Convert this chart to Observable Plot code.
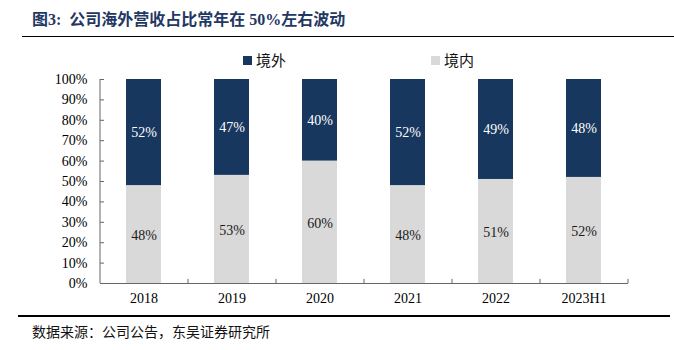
<!DOCTYPE html>
<html><head><meta charset="utf-8">
<script src="https://cdn.jsdelivr.net/npm/d3@7"></script>
<script src="https://cdn.jsdelivr.net/npm/@observablehq/plot@0.6"></script>
<style>
body{margin:0;background:#fff;}
#wrap{position:relative;width:674px;height:350px;overflow:hidden;}
#title{position:absolute;left:32px;top:6px;font-size:16px;font-weight:bold;color:#1f3864;font-family:"Liberation Serif","Noto Sans CJK SC",serif;white-space:nowrap;}
#tline{position:absolute;left:22px;right:0;top:36px;border-top:1.5px solid #000;}
.leg{position:absolute;top:50px;font-size:15px;font-family:"Noto Sans CJK SC",sans-serif;display:flex;align-items:center;line-height:20px;color:#111;}
.sw{width:9px;height:9px;margin-right:4px;}
#chart{position:absolute;left:0;top:65px;}
#cline{position:absolute;left:18px;width:652px;top:315px;border-top:2px solid #000;}
#caption{position:absolute;left:32px;top:321px;font-size:14px;font-family:"Noto Sans CJK SC",sans-serif;color:#111;white-space:nowrap;}
</style>
</head><body>
<div id="wrap">
  <div id="title">图3:&nbsp; 公司海外营收占比常年在 50%左右波动</div>
  <div id="tline"></div>
  <div class="leg" style="left:243px"><div class="sw" style="background:#17375e"></div>境外</div>
  <div class="leg" style="left:431px"><div class="sw" style="background:#d9d9d9"></div>境内</div>
  <div id="chart"></div>
  <div id="cline"></div>
  <div id="caption">数据来源：公司公告，东吴证券研究所</div>
</div>
<script>
const years = ["2018","2019","2020","2021","2022","2023H1"];
const domestic = [48,53,60,48,51,52];
const overseas = [52,47,40,52,49,48];
const yTicks = [0,10,20,30,40,50,60,70,80,90,100];
const types = ["境内","境外"];
const colors = ["#d9d9d9","#17375e"];

const rows = [
  ...years.map((y,i)=>({year:y,type:types[0],value:domestic[i]})),
  ...years.map((y,i)=>({year:y,type:types[1],value:overseas[i]}))
];
const domLabels = years.map((y,i)=>({year:y, mid:domestic[i]/2, text:domestic[i]+"%"}));
const ovLabels = years.map((y,i)=>({year:y, mid:domestic[i]+overseas[i]/2, text:overseas[i]+"%"}));

const chart = Plot.plot({
  width:674, height:245,
  marginLeft:100, marginRight:46, marginTop:14, marginBottom:27,
  x:{domain:years, paddingInner:0.6, paddingOuter:0.3, label:null},
  y:{domain:[0,100], label:null},
  color:{domain:types, range:colors},
  style:{fontFamily:"Liberation Serif, serif", fontSize:"14px", color:"#000", background:"transparent"},
  marks:[
    Plot.barY(rows, {x:"year", y:"value", fill:"type"}),
    Plot.text(domLabels, {x:"year", y:"mid", text:"text", fill:"#1a1a1a", fontSize:14, dy:1}),
    Plot.text(ovLabels, {x:"year", y:"mid", text:"text", fill:"#fff", fontSize:14}),
    Plot.axisY({ticks:yTicks, tickFormat:d=>d+"%", tickSize:0, tickPadding:13, fontSize:14}),
    Plot.axisX({tickSize:0, tickPadding:10, fontSize:14}),
    Plot.ruleY(yTicks, {insetRight:524, stroke:"#666"}),
    Plot.ruleY([0], {stroke:"#666"}),
    Plot.ruleX([years[0]], {dx:-44, stroke:"#666"}),
    Plot.ruleX(years, {dx:44, y1:0, y2:2, stroke:"#666"})
  ]
});
document.getElementById("chart").appendChild(chart);
</script>
</body></html>
